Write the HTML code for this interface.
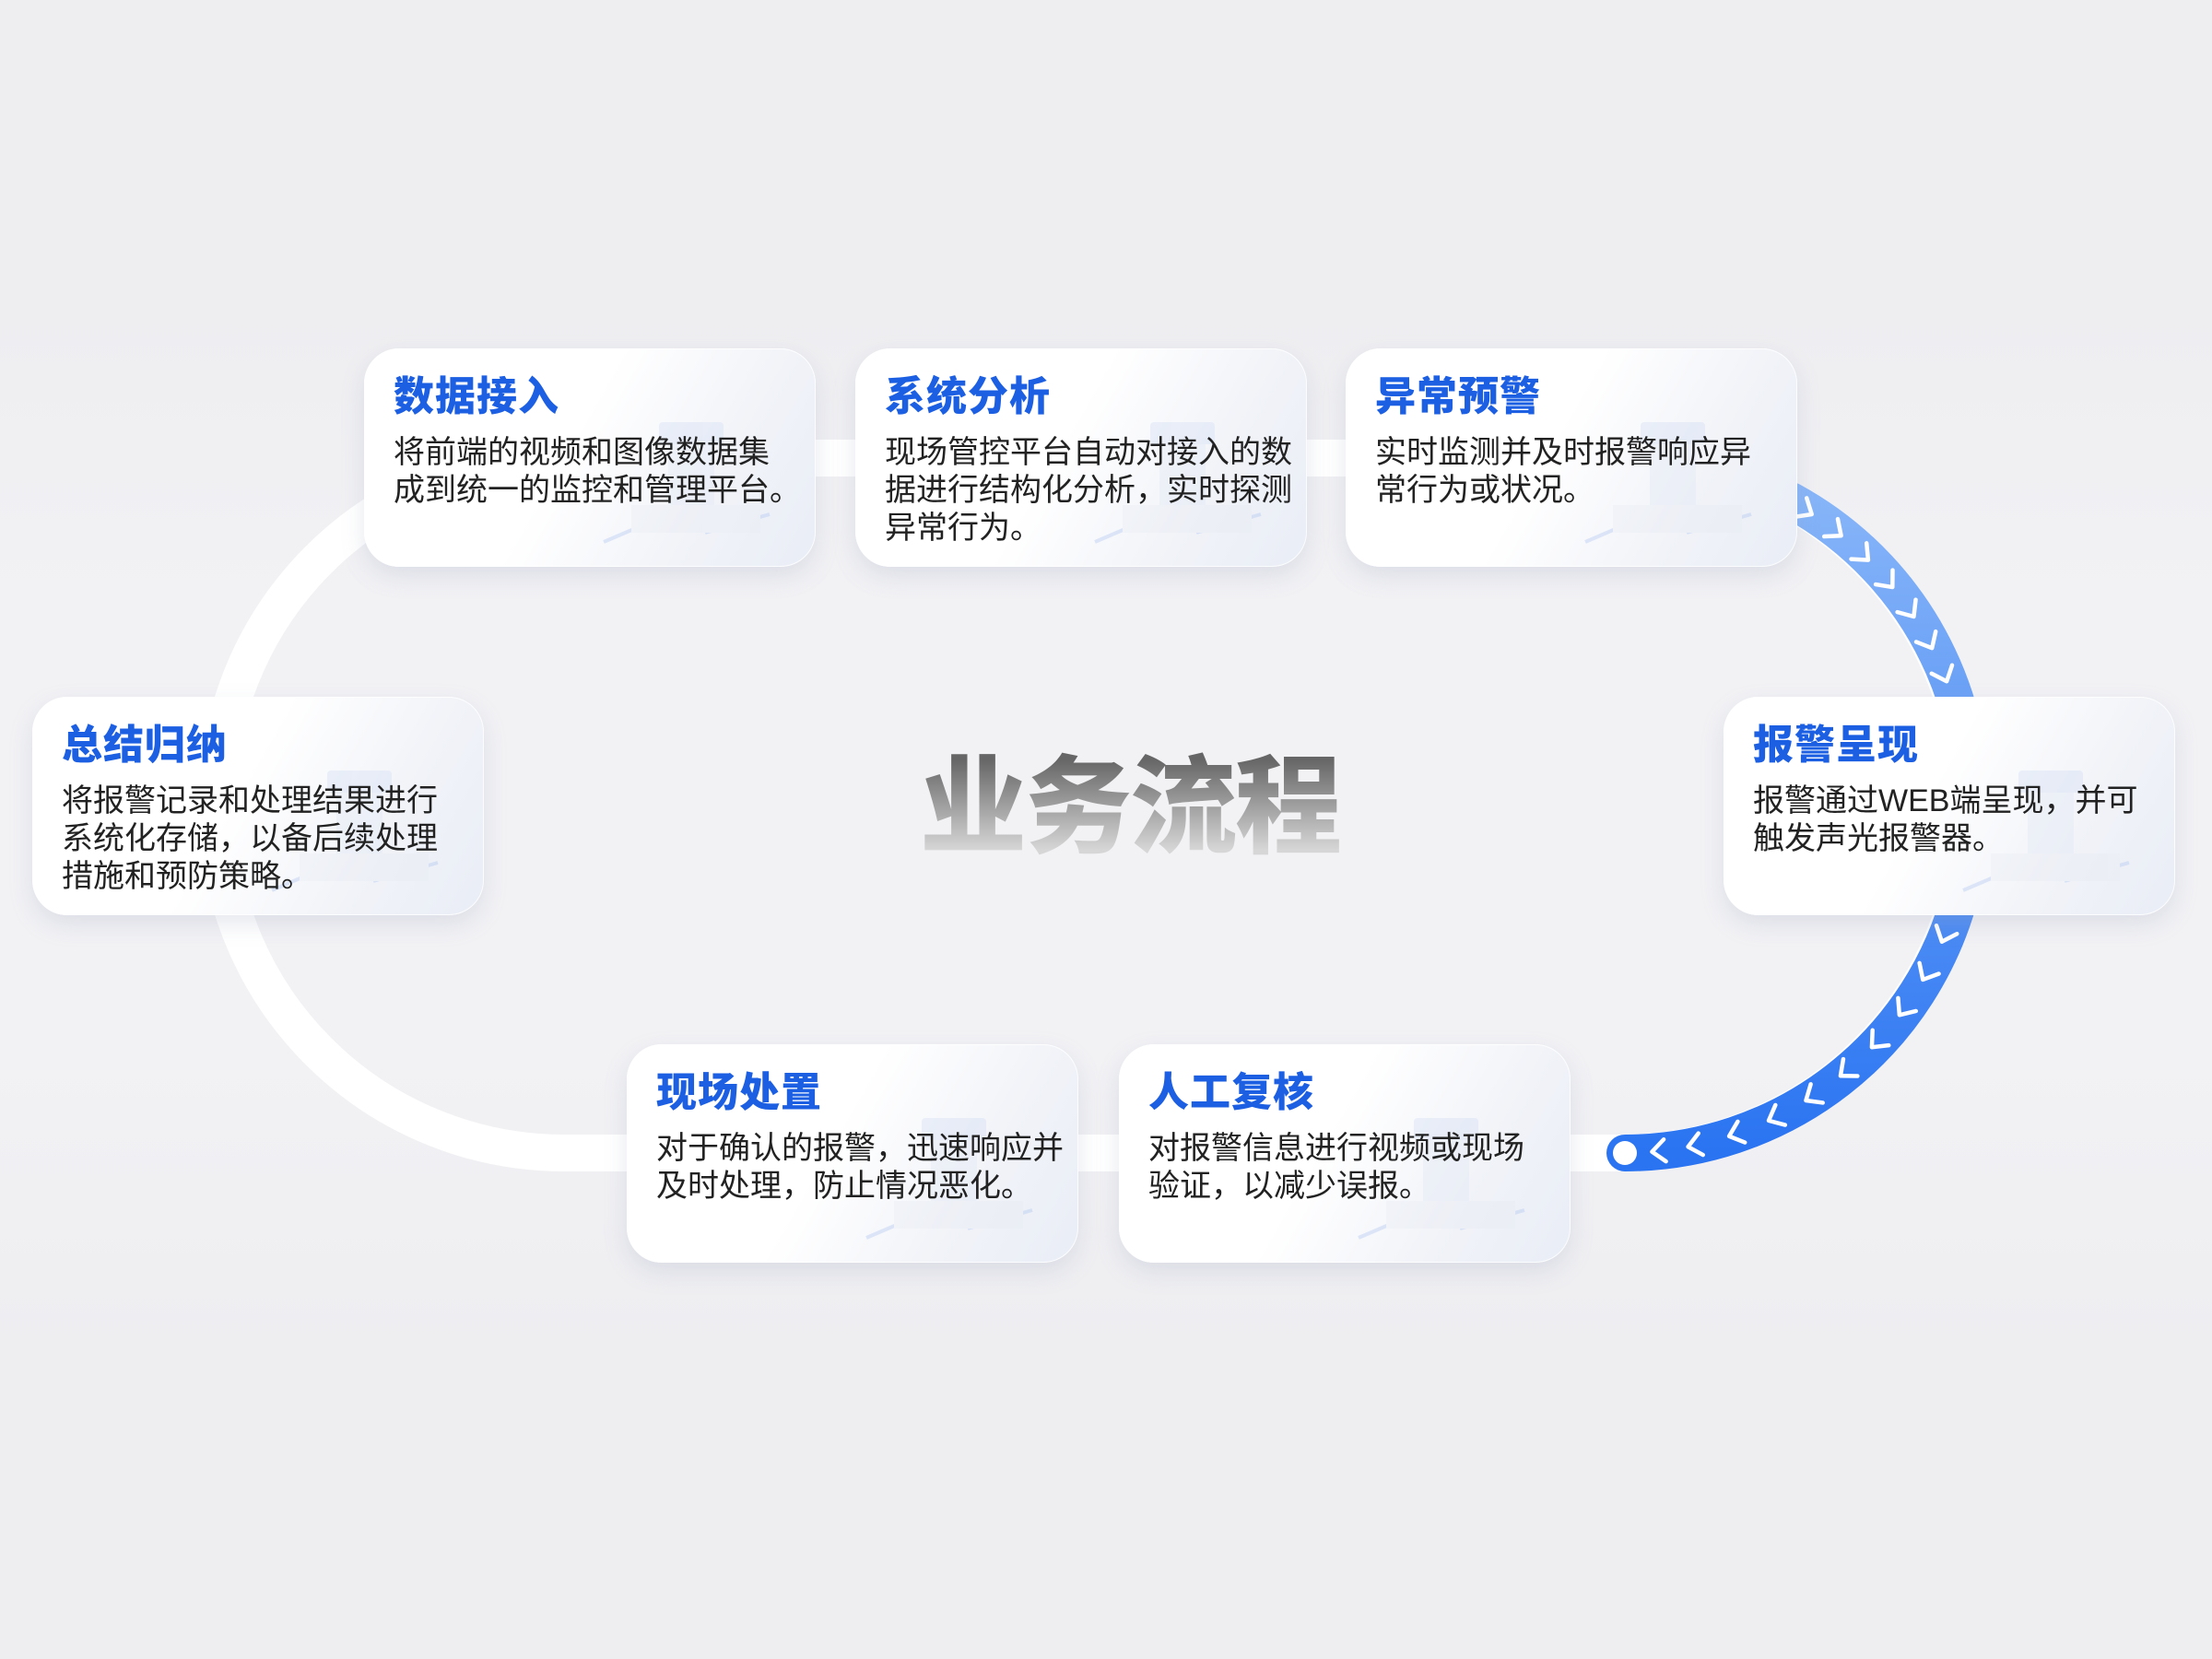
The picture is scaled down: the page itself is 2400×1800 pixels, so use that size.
<!DOCTYPE html>
<html><head><meta charset="utf-8">
<style>
html,body{margin:0;padding:0}
body{width:2400px;height:1800px;position:relative;overflow:hidden;background:#eeeef1;font-family:"Liberation Sans","Noto Sans CJK SC",sans-serif}
.band{position:absolute;left:0;top:330px;width:2400px;height:1140px;background:linear-gradient(180deg,#eeeef1 0%,#f2f2f5 30%,#f2f2f5 70%,#eeeef1 100%)}
.card{position:absolute;width:490px;height:237px;border-radius:38px;background:linear-gradient(120deg,#ffffff 0%,#ffffff 45%,#f1f3f8 75%,#e9edf6 100%);box-shadow:0 10px 24px rgba(160,168,190,0.25),0 0 0 1px rgba(255,255,255,0.8) inset;overflow:hidden}
.card .ill{position:absolute;right:40px;top:60px;width:200px;height:170px;opacity:.3}
.card h3{position:absolute;left:32px;top:16px;margin:0;font-size:44px;font-weight:900;color:#1c5fe2;letter-spacing:1px;white-space:nowrap;font-family:"Noto Sans CJK SC",sans-serif}
.card p{position:absolute;left:32px;top:93px;margin:0;font-size:34px;line-height:41px;color:#222;white-space:nowrap;font-family:"Liberation Sans","Noto Sans CJK SC",sans-serif}
.title{position:absolute;left:26px;width:2400px;top:796px;text-align:center;font-size:116px;font-weight:900;line-height:140px;font-family:"Noto Sans CJK SC",sans-serif;background:linear-gradient(180deg,#666 20%,#d6d6d6 90%);-webkit-background-clip:text;background-clip:text;color:transparent;letter-spacing:-2px}
</style></head><body>
<div class="band"></div>
<svg width="2400" height="1800" style="position:absolute;left:0;top:0">
<defs>
<linearGradient id="bg" x1="0" y1="0" x2="0" y2="1"><stop offset="0" stop-color="#86b4f8"/><stop offset="1" stop-color="#2a74f2"/></linearGradient>
</defs>
<path d="M612,497 L1760,497 A377,377 0 0 1 1760,1251 L612,1251 A377,377 0 0 1 612,497 Z" fill="none" stroke="#ffffff" stroke-width="40"/>
<path d="M1943,543 A377,377 0 0 1 1763,1251" fill="none" stroke="url(#bg)" stroke-width="40" stroke-linecap="round"/>
<g id="chev"></g>
<circle cx="1763" cy="1251" r="13" fill="#fff"/>
</svg>
<script>
(function(){
var g=document.getElementById('chev');var cx=1760,cy=874,r=377;var s='';
var angs=[-58,-52,-46,-40,-34,-28,-22,22,29,36,43,50,57,64,71,78,84];
for(var i=0;i<angs.length;i++){var a=angs[i]*Math.PI/180;var x=cx+r*Math.cos(a),y=cy+r*Math.sin(a);var rot=angs[i]+90;
s+='<path d="M-7,-12 L7,0 L-7,12" transform="translate('+x.toFixed(1)+','+y.toFixed(1)+') rotate('+rot+')" fill="none" stroke="#fff" stroke-width="4.5" stroke-linecap="round" stroke-linejoin="round"/>';}
g.innerHTML=s;})();
</script>

<div class="title">业务流程</div>

<div class="card" style="left:395px;top:378px">
<svg class="ill" viewBox="0 0 200 170"><rect x="70" y="20" width="70" height="24" rx="4" fill="#c9d6f3"/><rect x="80" y="44" width="50" height="70" fill="#dde4f3"/><path d="M10 150 L80 120 M120 140 L190 120" stroke="#9fbaf0" stroke-width="4"/><rect x="40" y="110" width="140" height="30" fill="#e6eaf3"/></svg>
<h3>数据接入</h3><p>将前端的视频和图像数据集<br>成到统一的监控和管理平台。</p></div>

<div class="card" style="left:928px;top:378px">
<svg class="ill" viewBox="0 0 200 170"><rect x="70" y="20" width="70" height="24" rx="4" fill="#c9d6f3"/><rect x="80" y="44" width="50" height="70" fill="#dde4f3"/><path d="M10 150 L80 120 M120 140 L190 120" stroke="#9fbaf0" stroke-width="4"/><rect x="40" y="110" width="140" height="30" fill="#e6eaf3"/></svg>
<h3>系统分析</h3><p>现场管控平台自动对接入的数<br>据进行结构化分析，实时探测<br>异常行为。</p></div>

<div class="card" style="left:1460px;top:378px">
<svg class="ill" viewBox="0 0 200 170"><rect x="70" y="20" width="70" height="24" rx="4" fill="#c9d6f3"/><rect x="80" y="44" width="50" height="70" fill="#dde4f3"/><path d="M10 150 L80 120 M120 140 L190 120" stroke="#9fbaf0" stroke-width="4"/><rect x="40" y="110" width="140" height="30" fill="#e6eaf3"/></svg>
<h3>异常预警</h3><p>实时监测并及时报警响应异<br>常行为或状况。</p></div>

<div class="card" style="left:35px;top:756px">
<svg class="ill" viewBox="0 0 200 170"><rect x="70" y="20" width="70" height="24" rx="4" fill="#c9d6f3"/><rect x="80" y="44" width="50" height="70" fill="#dde4f3"/><path d="M10 150 L80 120 M120 140 L190 120" stroke="#9fbaf0" stroke-width="4"/><rect x="40" y="110" width="140" height="30" fill="#e6eaf3"/></svg>
<h3>总结归纳</h3><p>将报警记录和处理结果进行<br>系统化存储，以备后续处理<br>措施和预防策略。</p></div>

<div class="card" style="left:1870px;top:756px">
<svg class="ill" viewBox="0 0 200 170"><rect x="70" y="20" width="70" height="24" rx="4" fill="#c9d6f3"/><rect x="80" y="44" width="50" height="70" fill="#dde4f3"/><path d="M10 150 L80 120 M120 140 L190 120" stroke="#9fbaf0" stroke-width="4"/><rect x="40" y="110" width="140" height="30" fill="#e6eaf3"/></svg>
<h3>报警呈现</h3><p>报警通过WEB端呈现，并可<br>触发声光报警器。</p></div>

<div class="card" style="left:680px;top:1133px">
<svg class="ill" viewBox="0 0 200 170"><rect x="70" y="20" width="70" height="24" rx="4" fill="#c9d6f3"/><rect x="80" y="44" width="50" height="70" fill="#dde4f3"/><path d="M10 150 L80 120 M120 140 L190 120" stroke="#9fbaf0" stroke-width="4"/><rect x="40" y="110" width="140" height="30" fill="#e6eaf3"/></svg>
<h3>现场处置</h3><p>对于确认的报警，迅速响应并<br>及时处理，防止情况恶化。</p></div>

<div class="card" style="left:1214px;top:1133px">
<svg class="ill" viewBox="0 0 200 170"><rect x="70" y="20" width="70" height="24" rx="4" fill="#c9d6f3"/><rect x="80" y="44" width="50" height="70" fill="#dde4f3"/><path d="M10 150 L80 120 M120 140 L190 120" stroke="#9fbaf0" stroke-width="4"/><rect x="40" y="110" width="140" height="30" fill="#e6eaf3"/></svg>
<h3>人工复核</h3><p>对报警信息进行视频或现场<br>验证，以减少误报。</p></div>
</body></html>
